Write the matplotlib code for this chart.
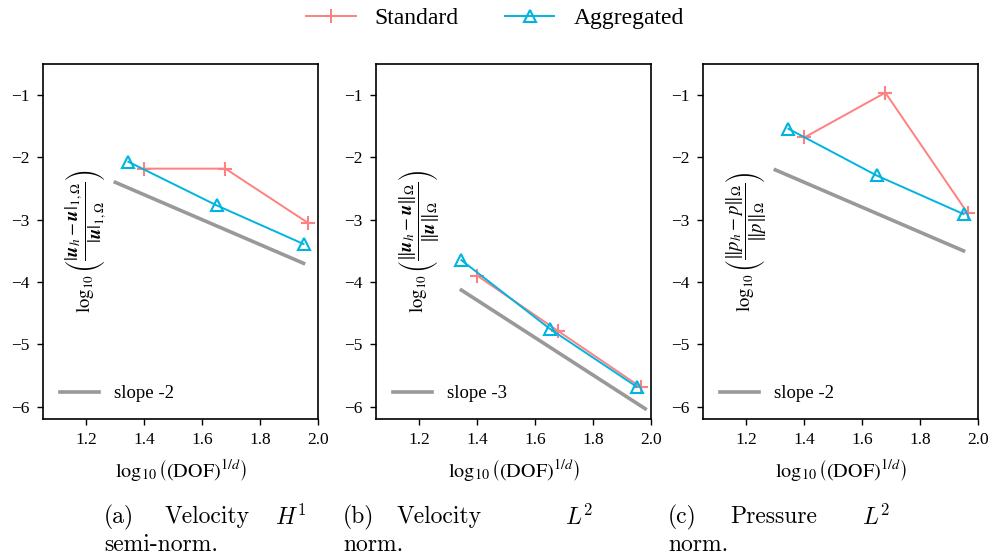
import matplotlib
matplotlib.use("Agg")
import matplotlib.pyplot as plt
from matplotlib.lines import Line2D

plt.rcParams['font.family'] = ['Liberation Serif', 'DejaVu Serif']
plt.rcParams['mathtext.fontset'] = 'stix'

# ---- data ----
x_std = [1.40, 1.68, 1.965]
x_agg = [1.345, 1.65, 1.95]

vel_h1_std = [-2.18, -2.18, -3.05]
vel_h1_agg = [-2.07, -2.77, -3.39]
vel_l2_std = [-3.90, -4.79, -5.69]
vel_l2_agg = [-3.65, -4.75, -5.68]
pre_l2_std = [-1.68, -0.96, -2.90]
pre_l2_agg = [-1.54, -2.29, -2.91]

slope_x = [[1.30, 1.95], [1.345, 1.98], [1.30, 1.95]]
slope_y0 = [-2.40, -4.13, -2.20]
slopes = [-2, -3, -2]

ylabels = [
    r'$\log_{10}\left(\dfrac{|\mathbfit{u}_h-\mathbfit{u}|_{1,\Omega}}{|\mathbfit{u}|_{1,\Omega}}\right)$',
    r'$\log_{10}\left(\dfrac{\|\mathbfit{u}_h-\mathbfit{u}\|_{\Omega}}{\|\mathbfit{u}\|_{\Omega}}\right)$',
    r'$\log_{10}\left(\dfrac{\|p_h-p\|_{\Omega}}{\|p\|_{\Omega}}\right)$',
]
xlabel = r'$\log_{10}\left((\mathrm{DOF})^{1/d}\right)$'
xticks = [1.2, 1.4, 1.6, 1.8, 2.0]
yticks = [-6, -5, -4, -3, -2, -1]

c_std = '#ff8080'
c_agg = '#00b4e0'
c_slope = '#999999'

W, H = 990, 559
fig = plt.figure(figsize=(9.9, 5.59), dpi=100)

lefts = [43, 376, 703]
top, bottom = 64, 419
width = 275

std_data = [vel_h1_std, vel_l2_std, pre_l2_std]
agg_data = [vel_h1_agg, vel_l2_agg, pre_l2_agg]

for i in range(3):
    ax = fig.add_axes([lefts[i] / W, 1 - bottom / H, width / W, (bottom - top) / H])
    sx = slope_x[i]
    sy = [slope_y0[i], slope_y0[i] + slopes[i] * (sx[1] - sx[0])]
    ax.plot(sx, sy, color=c_slope, lw=2.6, label=f'slope {slopes[i]}')
    ax.plot(x_std, std_data[i], color=c_std, lw=1.4, marker='+', ms=10, mew=1.5)
    ax.plot(x_agg, agg_data[i], color=c_agg, lw=1.4, marker='^', ms=9, mew=1.5,
            markerfacecolor='none')
    ax.set_xlim(1.05, 2.0)
    ax.set_ylim(-6.2, -0.5)
    ax.set_xticks(xticks)
    ax.set_xticklabels([f'{t:.1f}' for t in xticks])
    ax.set_yticks(yticks)
    ax.tick_params(labelsize=12.5, length=4.5, width=1, pad=5)
    for s in ax.spines.values():
        s.set_linewidth(1.2)
    ax.set_xlabel(xlabel, fontsize=14.5, labelpad=6)
    ax.text(0.155, 0.5, ylabels[i], rotation=90, ha='center', va='center',
            transform=ax.transAxes, fontsize=13.5)
    ax.legend(loc='lower left', frameon=False, fontsize=13.5, handlelength=2.1,
              handletextpad=0.8, borderaxespad=0.5)

handles = [Line2D([], [], color=c_std, lw=1.4, marker='+', ms=10, mew=1.5),
           Line2D([], [], color=c_agg, lw=1.4, marker='^', ms=9, mew=1.5,
                  markerfacecolor='none')]
fig.legend(handles, ['Standard', 'Aggregated'], loc='upper center',
           bbox_to_anchor=(0.5, 1.025), ncol=2, frameon=False, fontsize=17,
           handlelength=2.1, handletextpad=0.8, columnspacing=1.95)

# captions
cap_words = [
    [('(a)', 104, 517), ('Velocity', 165, 517), (r'$H^1$', 275, 517), ('semi-norm.', 104, 545)],
    [('(b)', 343, 517), ('Velocity', 397, 517), (r'$L^2$', 565, 517), ('norm.', 343, 545)],
    [('(c)', 668, 517), ('Pressure', 730, 517), (r'$L^2$', 862, 517), ('norm.', 668, 545)],
]
for group in cap_words:
    for word, px, py in group:
        fig.text(px / W, 1 - py / H, word, ha='left', va='center', fontsize=17,
                 family=['cmr10', 'DejaVu Serif'], math_fontfamily='cm')

fig.savefig('out.png', dpi=100)
